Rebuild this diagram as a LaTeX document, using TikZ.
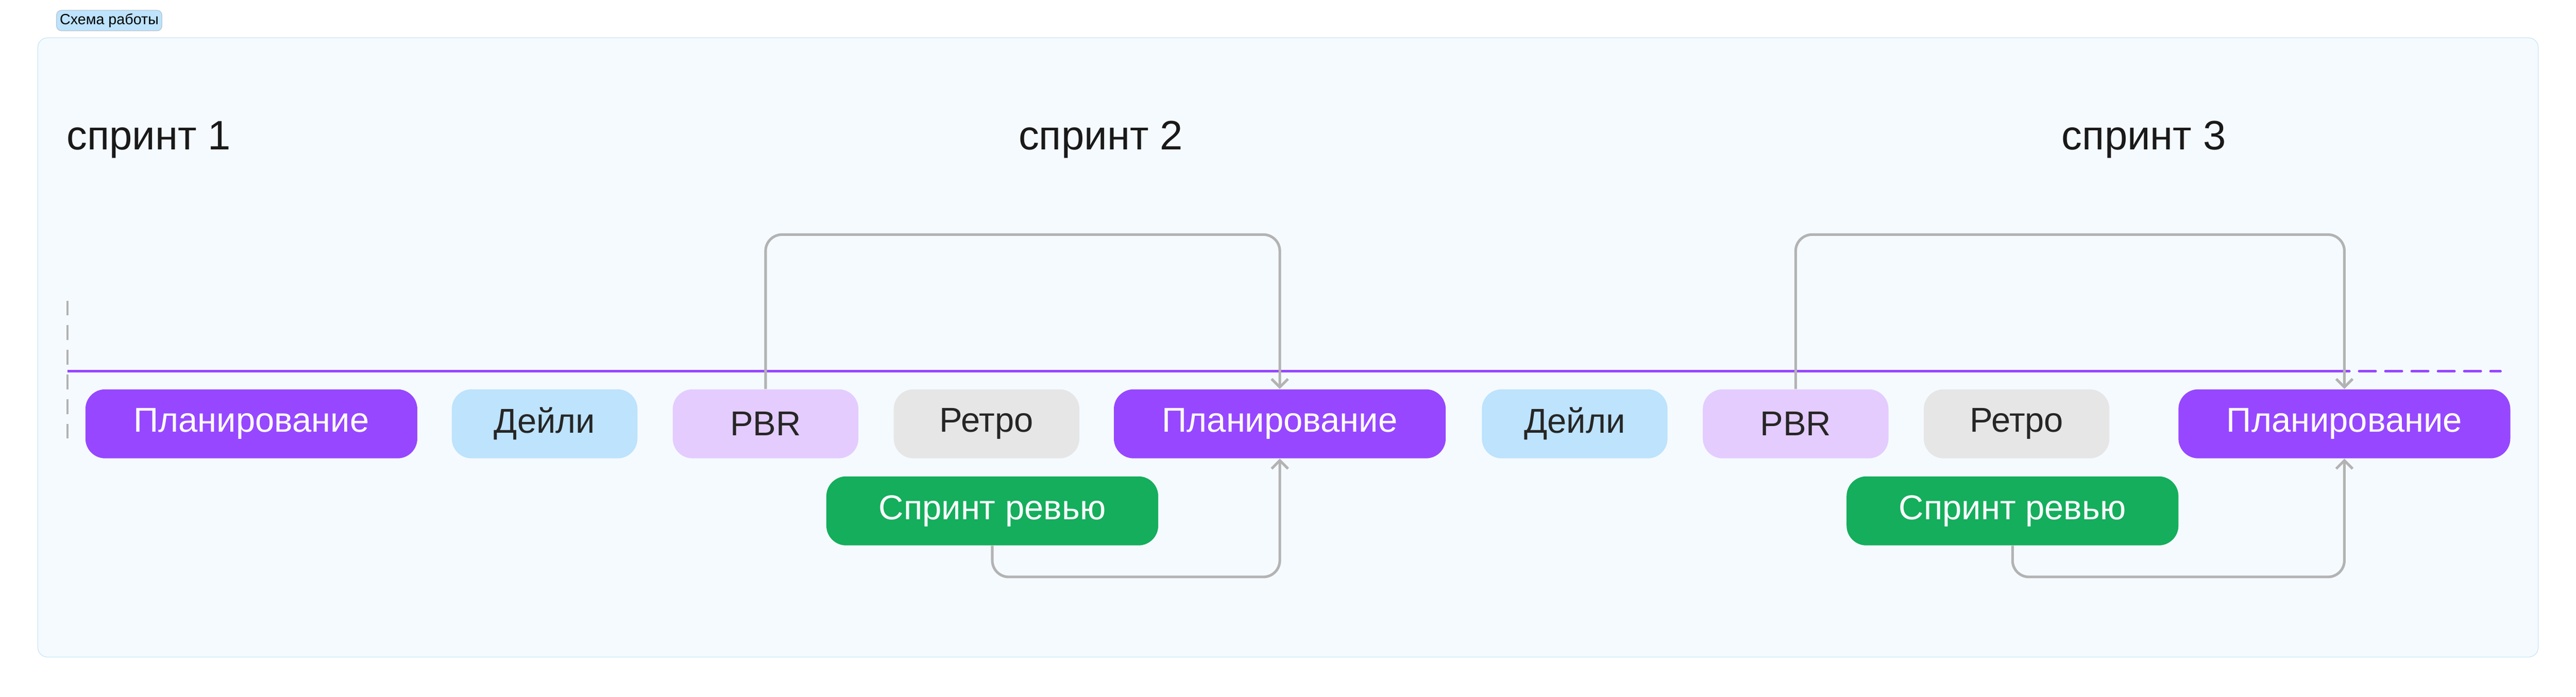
\documentclass[tikz,border=0pt]{standalone}
\usepackage{fontspec}
\setmainfont{Liberation Sans}
\usetikzlibrary{arrows.meta}
\definecolor{plan}{HTML}{9747FF}
\definecolor{daily}{HTML}{BDE3FD}
\definecolor{pbr}{HTML}{E4CCFF}
\definecolor{retro}{HTML}{E6E6E6}
\definecolor{review}{HTML}{14AE5C}
\definecolor{link}{HTML}{B3B3B3}
\definecolor{panel}{HTML}{F5FAFE}
\definecolor{panelline}{HTML}{C9E6F8}
\begin{document}
\begin{tikzpicture}[x=1pt,y=-1pt]
	\tikzstyle{event}=[rectangle, rounded corners=12pt, minimum height=42pt, inner sep=0pt, font=\fontsize{21}{24}\selectfont]
	\tikzstyle{short}=[event, minimum width=113pt, text=black!85]
	\tikzstyle{long}=[event, minimum width=202pt, fill=plan, text=white]
	\tikzstyle{sprint}=[font=\fontsize{25}{28}\selectfont, text=black!90]
	\tikzstyle{flow}=[draw=link, line width=1.6pt, rounded corners=10pt, -{Straight Barb[length=5pt,width=10pt]}]
	\useasboundingbox (0,0) rectangle (1568,424);
	\fill[white] (0,0) rectangle (1568,424);
	\node[fill=daily, draw=daily!70!black!60, rounded corners=3pt, font=\fontsize{9}{10}\selectfont, inner sep=2pt] (tag) at (66.5,12.5) {Схема работы};
	\draw[fill=panel, draw=panelline, rounded corners=6pt] (23,23) rectangle (1545,400);
	
	\node[sprint, anchor=west] (s1) at (37,85) {спринт 1};
	\node[sprint] (s2) at (670,85) {спринт 2};
	\node[sprint] (s3) at (1305,85) {спринт 3};
	
	\draw[link, line width=1.4pt, dash pattern=on 9pt off 6pt] (41,183) -- (41,268);
	\draw[plan, line width=1.6pt] (41,226) -- (1420,226);
	\draw[plan, line width=1.6pt, dash pattern=on 10pt off 6pt, line cap=round] (1420,226) -- (1522,226);
	
	\node[long] (plan1) at (153,258) {Планирование};
	\node[short, fill=daily] (daily1) at (331.5,258) {Дейли};
	\node[short, fill=pbr] (pbr1) at (466,258) {PBR};
	\node[short, fill=retro] (retro1) at (600.5,258) {Ретро};
	\node[long] (plan2) at (779,258) {Планирование};
	\node[short, fill=daily] (daily2) at (958.5,258) {Дейли};
	\node[short, fill=pbr] (pbr2) at (1093,258) {PBR};
	\node[short, fill=retro] (retro2) at (1227.5,258) {Ретро};
	\node[long] (plan3) at (1427,258) {Планирование};
	\node[long, fill=review] (review1) at (604,311) {Спринт ревью};
	\node[long, fill=review] (review2) at (1225,311) {Спринт ревью};
	
	\draw[flow] (pbr1.north) -- ++(0,-94) -| (plan2.north);
	\draw[flow] (pbr2.north) -- ++(0,-94) -| (plan3.north);
	\draw[flow] (review1.south) -- ++(0,19) -| (plan2.south);
	\draw[flow] (review2.south) -- ++(0,19) -| (plan3.south);
	
\end{tikzpicture}
\end{document}
